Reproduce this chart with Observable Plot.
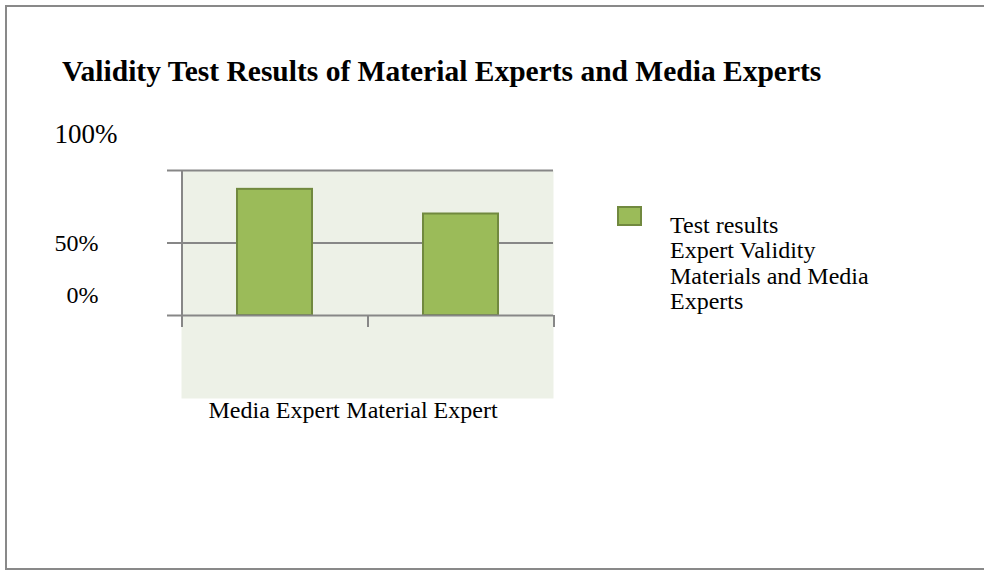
<!DOCTYPE html>
<html><head><meta charset="utf-8">
<script src="https://cdn.jsdelivr.net/npm/d3@7"></script>
<script src="https://cdn.jsdelivr.net/npm/@observablehq/plot@0.6"></script>
<style>
html,body{margin:0;padding:0;background:#fff;overflow:hidden;}
#wrap{position:relative;width:984px;height:570px;font-family:"Liberation Serif","Times New Roman",serif;color:#000;overflow:hidden;}
#border{position:absolute;left:5px;top:5px;width:1000px;height:561px;border:2px solid #898989;border-right:none;}
#title{position:absolute;left:62px;top:55px;font-size:29.5px;font-weight:bold;line-height:32px;white-space:nowrap;}
#chart{position:absolute;left:0;top:0;}
#legend{position:absolute;left:617px;top:206px;}
.sw{position:absolute;left:0;top:0;width:21px;height:16px;background:#9bbb59;border:2px solid #71893f;}
.lt{position:absolute;left:53px;top:7px;font-size:24px;line-height:25.3px;white-space:nowrap;}
</style>
</head><body>
<div id="wrap">
  <div id="border"></div>
  <div id="chart"></div>
  <div id="title"></div>
  <div id="legend"><div class="sw"></div><div class="lt" id="lt"></div></div>
</div>
<script>
const categories = ["Media Expert", "Material Expert"];
const values = [87, 70];
const yTicks = [0, 50, 100];
const seriesName = ["Test results", "Expert Validity", "Materials and Media", "Experts"];
const titleText = "Validity Test Results of Material Experts and Media Experts";

document.getElementById("title").textContent = titleText;
document.getElementById("lt").innerHTML = seriesName.join("<br>");

const data = categories.map((c, i) => ({category: c, value: values[i]}));
const gray = "#878787";
const fmt = d => d + "%";

const chart = Plot.plot({
  width: 984, height: 570,
  marginLeft: 181, marginRight: 431, marginTop: 170, marginBottom: 255,
  style: {fontFamily: "'Liberation Serif', 'Times New Roman', serif", fontSize: "24px", color: "#000", background: "transparent", overflow: "visible"},
  x: {type: "band", domain: categories, paddingInner: 0.597, paddingOuter: 0.2985, axis: null},
  y: {domain: [0, 100], axis: null},
  marks: [
    Plot.frame({fill: "#edf1e7", stroke: null, insetBottom: -83}),
    Plot.ruleY(yTicks.filter(v => v > 0), {stroke: gray, strokeWidth: 2, insetLeft: -14}),
    Plot.barY(data, {x: "category", y: "value", fill: "#9bbb59", stroke: "#71893f", strokeWidth: 2}),
    Plot.ruleY(yTicks.filter(v => v === 0), {stroke: gray, strokeWidth: 2, insetLeft: -14}),
    Plot.ruleX([categories[0]], {x: d => d, dx: -93, y1: () => 100, y2: () => 0, insetBottom: -12, stroke: gray, strokeWidth: 2}),
    Plot.ruleX(categories, {x: d => d, dx: 93, y1: () => 0, y2: () => 0, insetBottom: -12, stroke: gray, strokeWidth: 2}),
    Plot.text([categories[0]], {x: d => d, y: () => 0, text: d => d, textAnchor: "start", dx: -66.5, dy: 95, fill: "#000"}),
    Plot.text([categories[1]], {x: d => d, y: () => 0, text: d => d, textAnchor: "start", dx: -114.7, dy: 95, fill: "#000"}),
    Plot.text(yTicks.filter(v => v === 100), {y: d => d, text: fmt, frameAnchor: "left", textAnchor: "start", dx: -127, dy: -36, fontSize: 27, fill: "#000"}),
    Plot.text(yTicks.filter(v => v === 50), {y: d => d, text: fmt, frameAnchor: "left", textAnchor: "start", dx: -127, dy: 0, fill: "#000"}),
    Plot.text(yTicks.filter(v => v === 0), {y: d => d, text: fmt, frameAnchor: "left", textAnchor: "start", dx: -115, dy: -20, fill: "#000"})
  ]
});
document.getElementById("chart").appendChild(chart);
</script>
</body></html>
